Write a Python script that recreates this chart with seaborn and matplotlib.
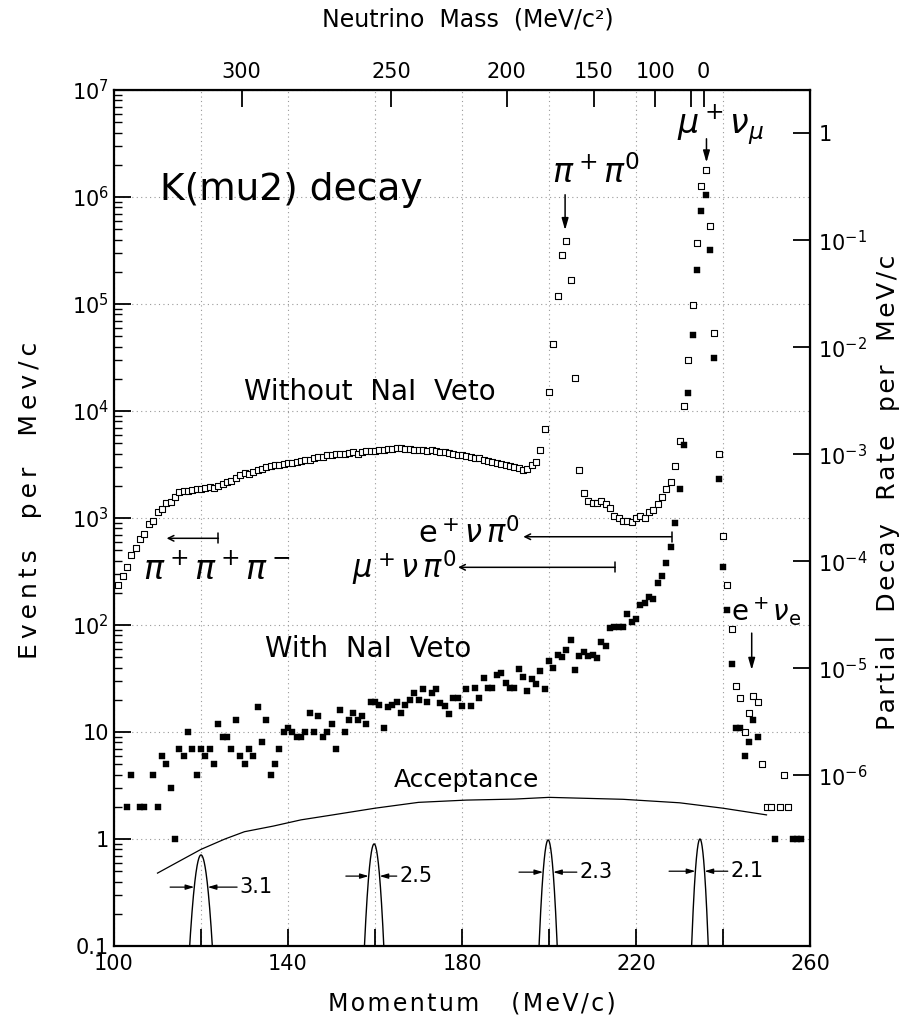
import numpy as np
import pandas as pd
import seaborn as sns
import matplotlib.pyplot as plt
from matplotlib.ticker import LogLocator, NullLocator, NullFormatter

# momentum bins (MeV/c) and counts per MeV/c
p_open = list(range(101, 250)) + [250, 251, 253, 254, 255]
n_open = [237, 287, 347, 450, 525, 634, 706, 880, 940, 1140,
          1210, 1380, 1410, 1570, 1750, 1780, 1800, 1820, 1850, 1870,
          1900, 1950, 1920, 2000, 2080, 2150, 2220, 2350, 2500, 2630,
          2580, 2700, 2800, 2900, 3000, 3050, 3100, 3150, 3200, 3240,
          3300, 3350, 3400, 3460, 3500, 3600, 3700, 3750, 3850, 3900,
          3950, 3980, 4000, 4050, 4100, 4000, 4150, 4200, 4250, 4270,
          4300, 4320, 4400, 4380, 4500, 4550, 4420, 4380, 4350, 4330,
          4300, 4250, 4280, 4200, 4150, 4100, 4080, 3950, 3900, 3850,
          3800, 3740, 3650, 3600, 3500, 3400, 3350, 3240, 3200, 3150,
          3050, 3000, 2950, 2810, 2900, 3100, 3360, 4330, 6760, 15100,
          42500, 120000, 285000, 385000, 167000, 20200, 2810, 1720, 1440, 1370,
          1370, 1440, 1350, 1240, 1050, 1000, 944, 937, 923, 1000,
          1045, 1000, 1150, 1190, 1350, 1560, 1850, 2160, 3060, 5250,
          11100, 30000, 97700, 374000, 1270000, 1780000, 537000, 53200, 3940, 676,
          237, 92, 27, 21, 10, 15, 21.7, 19, 5,
          2, 2, 2, 4, 2]

p_veto = [103, 104, 106, 107] + list(range(109, 249)) + [252, 256, 257, 258]
n_veto = [2, 4, 2, 2,
          4, 2, 6, 5, 3, 1, 7, 6, 10, 7,
          4, 7, 6, 7, 5, 12, 9, 9, 7, 13,
          6, 5, 7, 6, 17, 8, 13, 4, 5, 7,
          10, 11, 10, 9, 9, 10, 15, 10, 14, 9,
          10, 12, 7, 16, 10, 13, 15, 13, 14, 12,
          19, 19, 18, 11, 17, 18, 19, 15, 18, 20,
          23, 20, 25, 19, 23, 25, 18.5, 17.5, 14.7, 21,
          21, 17.5, 25, 17.5, 25.7, 21, 32, 25.7, 25.7, 34,
          35.5, 29, 25.7, 25.7, 39, 33, 24, 31, 28, 37,
          25, 46, 40, 52, 50, 58, 73, 38, 51, 56,
          51, 53, 49, 70, 63, 93, 95, 95, 95, 126,
          107, 115, 155, 159, 182, 174, 246, 288, 378, 537,
          892, 1850, 4810, 14600, 51000, 208000, 741000, 1050000, 320000, 31500,
          2310, 347, 138, 43, 11, 11, 6, 8, 13, 9,
          1, 1, 1, 1]

p_acc = [110, 115, 120, 125.5, 130, 136.6, 143, 150.3, 160, 170, 181, 192, 200, 217, 230, 240, 250]
v_acc = [0.48, 0.62, 0.80, 1.0, 1.17, 1.32, 1.51, 1.68, 1.94, 2.2, 2.31, 2.36, 2.45, 2.35, 2.18, 1.94, 1.68]

# resolution peaks: centre, height, FWHM (MeV/c)
res_centre = [120.0, 159.8, 199.8, 234.7]
res_height = [0.71, 0.90, 0.98, 1.0]
res_fwhm = [3.1, 2.5, 2.3, 2.1]
res_label = ["3.1", "2.5", "2.3", "2.1"]
res_left = [112.9, 153.3, 193.1, 227.6]
res_right = [128.3, 165.0, 206.4, 241.1]

mass_ticks = [300, 250, 200, 150, 100, 50, 0]
mass_labels = ["300", "250", "200", "150", "100", "", "0"]

RATE_SCALE = 3.94e6   # events per MeV/c  ->  partial decay rate per MeV/c
MK, MMU = 493.68, 105.66


def mass_to_p(m):
    e = (MK**2 + MMU**2 - np.asarray(m, float)**2) / (2 * MK)
    return np.sqrt(e**2 - MMU**2)


def spaced(s, gap="\u200a"):
    # the scanned lettering is widely tracked
    return gap.join(s)


plt.rcParams['font.family'] = 'DejaVu Sans'
plt.rcParams['mathtext.fontset'] = 'dejavusans'

fig = plt.figure(figsize=(9.16, 10.26), dpi=100)
ax = fig.add_axes([114/916, 80/1026, 696/916, 856/1026])

open_df = pd.DataFrame({"p": p_open, "n": n_open})
veto_df = pd.DataFrame({"p": p_veto, "n": n_veto})
acc_df = pd.DataFrame({"p": p_acc, "v": v_acc})

sns.scatterplot(data=open_df, x="p", y="n", marker="s", s=14, ax=ax, zorder=3)
coll = ax.collections[-1]
coll.set_facecolor("white")
coll.set_edgecolor("black")
coll.set_linewidth(0.8)
sns.scatterplot(data=veto_df, x="p", y="n", marker="s", s=13, color="black",
                edgecolor="black", linewidth=0.3, ax=ax, zorder=4)
sns.lineplot(data=acc_df, x="p", y="v", color="black", lw=0.9, ax=ax)

for c, h, w, lab, xl, xr in zip(res_centre, res_height, res_fwhm, res_label, res_left, res_right):
    sig = w / 2.3548
    xs = np.linspace(c - 3.2 * sig, c + 3.2 * sig, 161)
    ys = h * np.exp(-0.5 * ((xs - c) / sig) ** 2)
    sns.lineplot(x=xs, y=ys, color="black", lw=1.0, ax=ax, estimator=None, sort=False)
    half = h / 2
    kw = dict(arrowstyle="-|>,head_length=0.5,head_width=0.15", lw=0.9, color="black",
              shrinkA=0, shrinkB=0)
    ax.annotate("", xy=(c - w / 2, half), xytext=(xl, half), arrowprops=kw)
    ax.annotate("", xy=(c + w / 2, half), xytext=(xr, half), arrowprops=kw)
    ax.text(xr + 0.6, half, lab, fontsize=15, va="center", ha="left")

ax.set_yscale("log")
ax.set_xlim(100, 260)
ax.set_ylim(0.1, 1e7)
ax.set_xlabel("")
ax.set_ylabel("")

ax.set_xticks(np.arange(100, 261, 20),
              ["100", "", "140", "", "180", "", "220", "", "260"])
yt = [0.1, 1, 10, 1e2, 1e3, 1e4, 1e5, 1e6, 1e7]
ax.set_yticks(yt, ["0.1", "1", "10"] + [r"$10^{%d}$" % k for k in range(2, 8)])
ax.yaxis.set_minor_locator(LogLocator(base=10, subs=np.arange(2, 10), numticks=20))
ax.yaxis.set_minor_formatter(NullFormatter())
ax.tick_params(axis="both", which="major", direction="in", length=12, width=1.3,
               labelsize=15, top=False, right=False)
ax.tick_params(axis="y", which="minor", direction="in", length=6, width=1.0, right=False)
ax.tick_params(axis="x", which="major", pad=6)
for s in ax.spines.values():
    s.set_linewidth(1.6)
ax.grid(True, which="major", ls=(0, (1, 3)), color="0.6", lw=0.8)

sec_x = ax.secondary_xaxis("top")
sec_x.set_xticks(mass_to_p(mass_ticks), mass_labels)
sec_x.tick_params(direction="in", length=12, width=1.3, labelsize=15, pad=6)

sec_y = ax.secondary_yaxis("right", functions=(lambda v: v / RATE_SCALE,
                                               lambda v: v * RATE_SCALE))
sec_y.set_yticks([1e-6, 1e-5, 1e-4, 1e-3, 1e-2, 1e-1, 1],
                 [r"$10^{-%d}$" % k for k in range(6, 0, -1)] + ["1"])
sec_y.yaxis.set_minor_locator(NullLocator())
sec_y.tick_params(direction="in", length=12, width=1.3, labelsize=15, pad=6)

fig.text(30/916, 1 - 500/1026, spaced("Events  per  Mev/c", "\u2009"), rotation=90,
         ha="center", va="center", fontsize=18)
fig.text(888/916, 1 - 492/1026, spaced("Partial  Decay  Rate  per  MeV/c"), rotation=90,
         ha="center", va="center", fontsize=18)
fig.text(472/916, 1 - 1003/1026, spaced("Momentum   (MeV/c)"), ha="center", va="center",
         fontsize=17)
fig.text(468/916, 1 - 20/1026, "Neutrino  Mass  (MeV/c²)", ha="center", va="center",
         fontsize=17)

ax.text(110.6, 1.16e6, "K(mu2) decay", fontsize=27, ha="left", va="center")
ax.text(158.9, 1.49e4, "Without  NaI  Veto", fontsize=20, ha="center", va="center")
ax.text(158.5, 60, "With  NaI  Veto", fontsize=20, ha="center", va="center")
ax.text(181.0, 3.56, "Acceptance", fontsize=18, ha="center", va="center")

down = dict(arrowstyle="-|>,head_length=0.7,head_width=0.2", lw=1.1, color="black",
            shrinkA=0, shrinkB=0)
ax.text(210.8, 1.7e6, r"$\pi^+\pi^0$", fontsize=24, ha="center", va="center")
ax.annotate("", xy=(203.7, 4.9e5), xytext=(203.7, 1.05e6), arrowprops=down)
ax.text(239.5, 4.7e6, r"$\mu^+\nu_\mu$", fontsize=24, ha="center", va="center")
ax.annotate("", xy=(236.2, 2.1e6), xytext=(236.2, 3.5e6), arrowprops=down)
ax.text(250.0, 132, r"$\mathrm{e}^+\nu_\mathrm{e}$", fontsize=20, ha="center", va="center")
ax.annotate("", xy=(246.6, 38), xytext=(246.6, 84), arrowprops=down)

side = dict(arrowstyle="]->,widthA=0.35,lengthA=0",
            lw=1.1, color="black", shrinkA=0, shrinkB=0)
ax.text(106.7, 327, r"$\pi^+\pi^+\pi^-$", fontsize=24, ha="left", va="center")
ax.annotate("", xy=(112.1, 646), xytext=(124.0, 646), arrowprops=side)
ax.text(193.3, 725, r"$\mathrm{e}^+\nu\,\pi^0$", fontsize=22, ha="right", va="center")
ax.annotate("", xy=(194.1, 668), xytext=(228.2, 668), arrowprops=side)
ax.text(178.8, 341, r"$\mu^+\nu\,\pi^0$", fontsize=22, ha="right", va="center")
ax.annotate("", xy=(179.1, 346), xytext=(215.2, 346), arrowprops=side)

fig.savefig("out.png", dpi=100)
